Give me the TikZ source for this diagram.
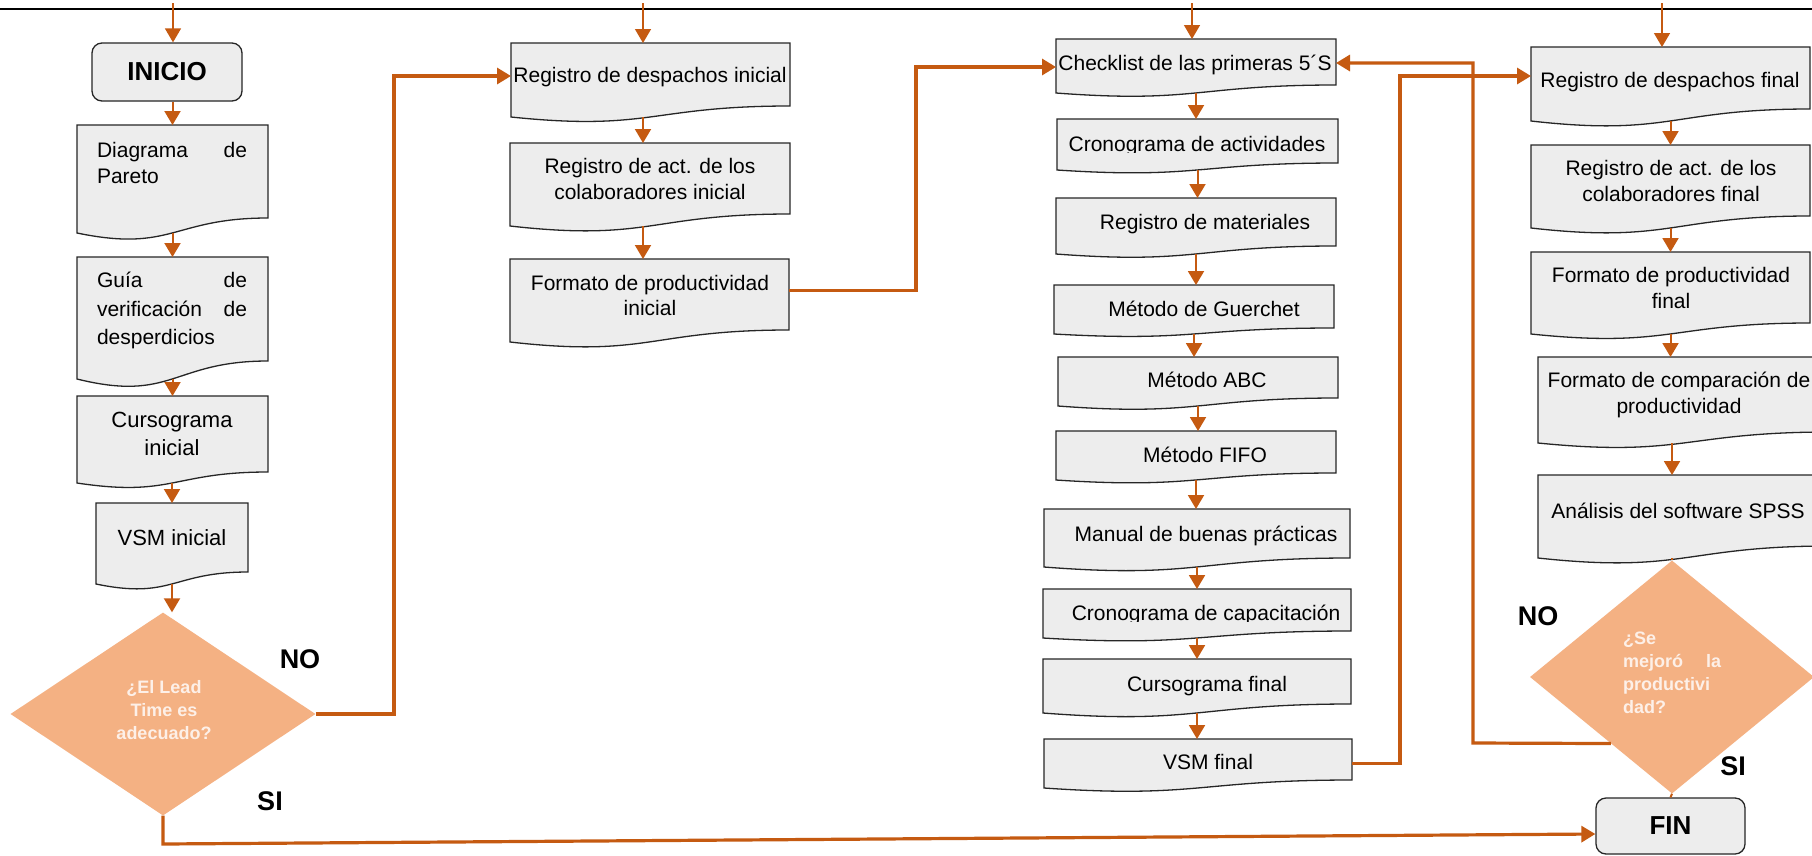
\documentclass[tikz,border=0pt]{standalone}
\usepackage{fontspec}
\setmainfont{Liberation Sans}
\usetikzlibrary{shapes.geometric,arrows.meta,calc}
\definecolor{arrorange}{HTML}{C55A11}
\definecolor{boxfill}{HTML}{EDEDED}
\definecolor{boxline}{HTML}{262626}
\definecolor{dfill}{HTML}{F4B183}
\definecolor{dtext}{HTML}{FDF0E8}
\tikzset{
 docshape/.style={fill=boxfill, draw=boxline, line width=1.3pt},
 frame/.style={inner sep=0pt, outer sep=0pt, draw=none},
 txt/.style={inner sep=0pt, outer sep=0pt, font=\fontsize{21}{26}\selectfont, align=center, text=black},
 arr/.style={draw=arrorange, line width=2pt, -{Triangle[width=16pt,length=14pt]}},
 conn/.style={draw=arrorange, line width=3.2pt},
 connarr/.style={conn, -{Triangle[width=16pt,length=14pt]}},
 term/.style={rounded corners=10pt, fill=boxfill, draw=boxline, line width=1.3pt, inner sep=0pt, font=\fontsize{26}{30}\selectfont\bfseries},
 dec/.style={diamond, fill=dfill, draw=none, inner sep=0pt},
 lbl/.style={font=\fontsize{27}{30}\selectfont\bfseries, inner sep=0pt, anchor=base},
 dtxt/.style={font=\fontsize{18}{23}\selectfont\bfseries, text=dtext, inner sep=0pt},
}
% name, x left, y top, x right, y bottom right, y bottom left
\newcommand{\docbox}[6]{%
  \path[docshape] (#2,#3) -- (#4,#3) -- (#4,#5) .. controls ({(#2+#4)/2},#5) and ({(#2+#4)/2},{#5+2.316*(#6-#5)}) .. (#2,#6) -- cycle;
  \node[frame, minimum width={(#4-#2)*1pt}, minimum height={(#6-#3)*1pt}] (#1) at ({(#2+#4)/2},{(#3+#6)/2}) {};
}
\newcommand{\jl}[3]{\hbox to #1{#2\hfill #3}}
\begin{document}
\begin{tikzpicture}[x=1pt, y=-1pt]
\clip (0,0) rectangle (1812,855);
\fill[white] (0,0) rectangle (1812,855);

% ---------- column 1
\coordinate (t1) at (173,3);
\node[term, minimum width=150pt, minimum height=58pt] (ini) at (167,72) {INICIO};
\docbox{par}{77}{125}{268}{218}{233}
\node[txt, align=left] (part) at (172,162.5) {\jl{150pt}{Diagrama}{de}\\Pareto};
\docbox{gui}{77}{257}{268}{361}{379}
\node[txt, align=left, font=\fontsize{21}{28.5}\selectfont] (guit) at (172,310.5) {\jl{150pt}{Guía}{de}\\\jl{150pt}{verificación}{de}\\desperdicios};
\docbox{cur}{77}{396}{268}{472}{483}
\node[txt, font=\fontsize{22}{28}\selectfont] (curt) at (172,433.5) {Cursograma\\inicial};
\docbox{vsm}{96}{503}{248}{572}{584}
\node[txt, font=\fontsize{22}{26}\selectfont, anchor=base] (vsmt) at (172,545) {VSM inicial};
\node[dec, minimum width=305pt, minimum height=203pt] (d1) at (163,714) {};
\node[dtxt, align=center] (d1t) at (164,710) {¿El Lead\\Time es\\adecuado?};
\node[lbl] (no1) at (300,668) {NO};
\node[lbl] (si1) at (270,810) {SI};

% ---------- column 2
\coordinate (t2) at (643,3);
\docbox{rd1}{511}{43}{790}{106}{117}
\node[txt, anchor=base] (rd1t) at (650,82) {Registro de despachos inicial};
\docbox{ra1}{510}{143}{790}{214}{226}
\node[txt, font=\fontsize{21}{25.5}\selectfont] (ra1t) at (650,179) {Registro de act. de los\\colaboradores inicial};
\docbox{fp1}{510}{259}{789}{330}{342}
\node[txt, font=\fontsize{21}{25}\selectfont] (fp1t) at (650,295) {Formato de productividad\\inicial};

% ---------- column 3
\coordinate (t3) at (1192,3);
\docbox{chk}{1056}{39}{1336}{85}{93}
\node[txt, anchor=base] (chkt) at (1195,70) {Checklist de las primeras 5´S};
\docbox{cra}{1057}{119}{1338}{163}{170}
\begin{scope}
\clip (1050,100) rectangle (1345,152);
\node[txt, anchor=base] (crat) at (1197,151) {Cronograma de actividades};
\end{scope}
\docbox{rma}{1056}{198}{1336}{246}{254}
\node[txt, anchor=base] (rmat) at (1205,229) {Registro de materiales};
\docbox{gue}{1054}{285}{1334}{328}{334}
\node[txt, anchor=base] (guet) at (1204,316) {Método de Guerchet};
\docbox{abc}{1058}{357}{1338}{398}{406}
\node[txt, anchor=base] (abct) at (1207,387) {Método ABC};
\docbox{fifo}{1056}{431}{1336}{473}{480}
\node[txt, anchor=base] (fifot) at (1205,462) {Método FIFO};
\docbox{man}{1044}{509}{1350}{558}{567}
\node[txt, anchor=base] (mant) at (1206,541) {Manual de buenas prácticas};
\docbox{crc}{1043}{589}{1351}{631}{638}
\begin{scope}
\clip (1040,580) rectangle (1355,621);
\node[txt, anchor=base] (crct) at (1206,620) {Cronograma de capacitación};
\end{scope}
\docbox{cuf}{1043}{659}{1351}{704}{713}
\node[txt, anchor=base] (cuft) at (1207,691) {Cursograma final};
\docbox{vsf}{1044}{739}{1352}{780}{788}
\node[txt, anchor=base] (vsft) at (1208,769) {VSM final};

% ---------- column 4
\coordinate (t4) at (1662,3);
\docbox{rdf}{1531}{47}{1810}{109}{121}
\node[txt, anchor=base] (rdft) at (1670,87) {Registro de despachos final};
\docbox{raf}{1531}{145}{1810}{216}{228}
\node[txt] (raft) at (1671,181) {Registro de act. de los\\colaboradores final};
\docbox{fpf}{1531}{252}{1810}{323}{334}
\node[txt] (fpft) at (1671,288) {Formato de productividad\\final};
\docbox{cmp}{1538}{357}{1830}{432}{443}
\node[txt] (cmpt) at (1679,394.5) {Formato de comparación de\\productividad};
\docbox{ana}{1538}{475}{1830}{546}{558}
\node[txt, anchor=base] (anat) at (1678,518) {Análisis del software SPSS};
\node[dec, minimum width=284pt, minimum height=233pt] (d2) at (1672,677) {};
\node[dtxt, anchor=north west, align=left] (d2t) at (1623,632) {¿Se\\\jl{98pt}{mejoró}{la}\\productivi\\dad?};
\node[lbl] (no2) at (1538,625) {NO};
\node[lbl] (si2) at (1733,775) {SI};
\node[term, minimum width=149pt, minimum height=56pt] (fin) at (1670.5,826) {FIN};

% ---------- connectors
\draw[black, line width=2pt] (0,9) -- (1812,9);
\draw[arr, line width=1.5pt] (t1) -- (t1 |- ini.north);
\draw[arr, line width=1.5pt] (t2) -- (t2 |- rd1.north);
\draw[arr, line width=1.5pt] (t3) -- (t3 |- chk.north);
\draw[arr, line width=1.5pt] (t4) -- (t4 |- rdf.north);

\draw[arr] (par.north |- ini.south) -- (par.north);
\draw[arr] (gui.north |- par.south) -- (gui.north);
\draw[arr] (cur.north |- gui.south) -- (cur.north);
\draw[arr] (vsm.north |- cur.south) -- (vsm.north);
\draw[arr] (vsm.south) -- (vsm.south |- d1.north);

\draw[arr] (t2 |- rd1.south) -- (t2 |- ra1.north);
\draw[arr] (t2 |- ra1.south) -- (t2 |- fp1.north);

\draw[arr] (chk.south) -- (chk.south |- cra.north);
\draw[arr] (cra.south) -- (cra.south |- rma.north);
\draw[arr] (rma.south) -- (rma.south |- gue.north);
\draw[arr] (gue.south) -- (gue.south |- abc.north);
\draw[arr] (abc.south) -- (abc.south |- fifo.north);
\draw[arr] (fifo.south) -- (fifo.south |- man.north);
\draw[arr] (man.south) -- (man.south |- crc.north);
\draw[arr] (crc.south) -- (crc.south |- cuf.north);
\draw[arr] (cuf.south) -- (cuf.south |- vsf.north);

\draw[arr] (rdf.south) -- (rdf.south |- raf.north);
\draw[arr] (raf.south) -- (raf.south |- fpf.north);
\draw[arr] (fpf.south) -- (fpf.south |- cmp.north);
\draw[arr] (d2.north |- cmp.south) -- (d2.north |- ana.north);
\draw[arrorange, line width=2pt] (d2.north |- ana.south) -- (d2.north);
\draw[arrorange, line width=2pt] (d2.south) -- (fin.north);

\coordinate (n1) at (394,76);
\draw[connarr] (d1.east) -| (n1) -- (n1 -| rd1.west);
\coordinate (n2) at (916,67);
\draw[connarr] ([yshift=10pt]fp1.east) -| (n2) -- (n2 -| chk.west);
\coordinate (n3) at (1400,76);
\draw[connarr] (vsf.east) -| (n3) -- (n3 -| rdf.west);
\coordinate (n4) at (1473,743);
\coordinate (n5) at (1473,63);
\draw[connarr] ($(d2.west)!0.57!(d2.south)$) -- (n4) -- (n5) -- (n5 -| chk.east);
\coordinate (n6) at (163,844);
\draw[connarr] (d1.south) -- (n6) -- ([yshift=-8pt]fin.west);
\end{tikzpicture}
\end{document}
